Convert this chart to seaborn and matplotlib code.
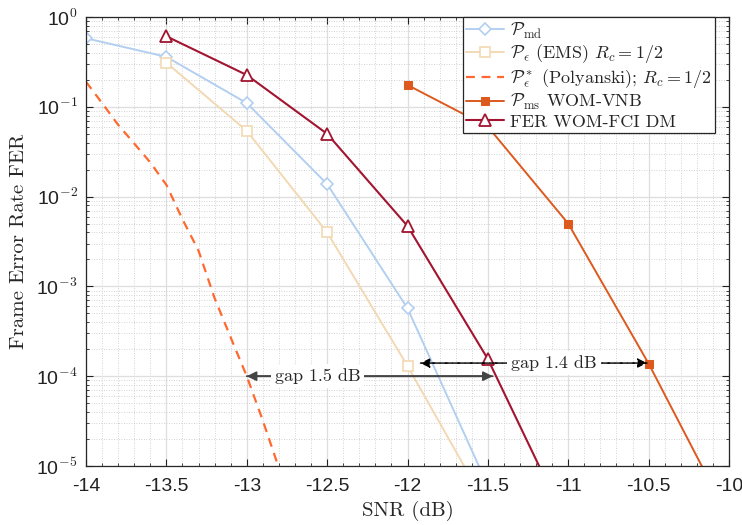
import numpy as np
import pandas as pd
import seaborn as sns
import matplotlib
matplotlib.use('Agg')
import matplotlib.pyplot as plt
from matplotlib.ticker import FuncFormatter, LogLocator, MultipleLocator

# data
snr_md = [-14.0, -13.5, -13.0, -12.5, -12.0, -11.5]
fer_md = [0.58, 0.36, 0.11, 0.0138, 5.7e-4, 6e-6]

snr_ems = [-13.5, -13.0, -12.5, -12.0, -11.5]
fer_ems = [0.31, 0.054, 0.0040, 1.3e-4, 3.4e-6]

snr_poly = [-14.0, -13.9, -13.8, -13.7, -13.6, -13.5, -13.4, -13.3, -13.2, -13.1, -13.0, -12.9, -12.8]
fer_poly = [0.19, 0.11, 0.063, 0.039, 0.024, 0.0135, 0.0056, 0.0025, 7.4e-4, 2.7e-4, 1.0e-4, 3.2e-5, 9.5e-6]

snr_vnb = [-12.0, -11.5, -11.0, -10.5, -10.0]
fer_vnb = [0.175, 0.06, 0.005, 1.38e-4, 2.6e-6]

snr_fci = [-13.5, -13.0, -12.5, -12.0, -11.5, -11.0]
fer_fci = [0.61, 0.226, 0.050, 0.0047, 1.55e-4, 2.1e-6]

labels = [r'$\mathcal{P}_{\rm md}$',
          r'$\mathcal{P}_\epsilon$ (EMS) $R_c = 1/2$',
          r'$\mathcal{P}^*_\epsilon$ (Polyanski); $R_c = 1/2$',
          r'$\mathcal{P}_{\rm ms}$ WOM-VNB',
          'FER WOM-FCI DM']

sns.set_style('ticks')
plt.rcParams['font.family'] = ['Liberation Sans', 'DejaVu Sans']
plt.rcParams['mathtext.fontset'] = 'cm'
plt.rcParams['axes.unicode_minus'] = False

fig = plt.figure(figsize=(7.42, 5.25), dpi=100)
ax = fig.add_axes([0.1159, 0.1124, 0.8666, 0.8552])

c_md = '#b3cff0'
c_ems = '#f2d9b3'
c_poly = '#ff6930'
c_vnb = '#dd5a1e'
c_fci = '#a2142f'

sns.lineplot(x=snr_md, y=fer_md, ax=ax, color=c_md, lw=1.4, marker='D', markersize=6,
             markerfacecolor='white', markeredgecolor=c_md, markeredgewidth=1.2, label=labels[0])
sns.lineplot(x=snr_ems, y=fer_ems, ax=ax, color=c_ems, lw=1.4, marker='s', markersize=7,
             markerfacecolor='white', markeredgecolor=c_ems, markeredgewidth=1.2, label=labels[1])
sns.lineplot(x=snr_poly, y=fer_poly, ax=ax, color=c_poly, lw=1.6, linestyle=(0, (4, 3)),
             label=labels[2])
sns.lineplot(x=snr_vnb, y=fer_vnb, ax=ax, color=c_vnb, lw=1.4, marker='s', markersize=6,
             markerfacecolor=c_vnb, markeredgecolor=c_vnb, label=labels[3])
sns.lineplot(x=snr_fci, y=fer_fci, ax=ax, color=c_fci, lw=1.5, marker='^', markersize=8,
             markerfacecolor='white', markeredgecolor=c_fci, markeredgewidth=1.3, label=labels[4])

ax.set_yscale('log')
ax.set_xlim(-14, -10)
ax.set_ylim(1e-5, 1)
ax.xaxis.set_major_locator(MultipleLocator(0.5))
ax.xaxis.set_minor_locator(MultipleLocator(0.1))
ax.yaxis.set_major_locator(LogLocator(base=10, numticks=10))
ax.yaxis.set_minor_locator(LogLocator(base=10, subs=np.arange(2, 10), numticks=20))
ax.xaxis.set_major_formatter(FuncFormatter(lambda v, p: f'{v:g}'))
ax.yaxis.set_major_formatter(FuncFormatter(
    lambda v, p: '10$^{\\mathsf{' + str(int(round(np.log10(v)))) + '}}$'))

ax.grid(which='major', color='#dedede', lw=0.9, ls='-')
ax.grid(which='minor', color='#c4c4c4', lw=0.6, ls=(0, (1, 2)))
ax.set_axisbelow(True)
ax.tick_params(which='both', direction='in', top=True, right=True, labelsize=14, colors='#222222')
ax.tick_params(axis='x', which='major', pad=9)
ax.tick_params(axis='y', which='major', pad=6)
ax.tick_params(which='major', length=5)
ax.tick_params(which='minor', length=2.5)
for s in ax.spines.values():
    s.set_color('#262626')
    s.set_linewidth(0.9)

ax.set_xlabel('SNR (dB)', family='cmr10', fontsize=15, labelpad=4)
ax.set_ylabel('Frame Error Rate FER', family='cmr10', fontsize=15, labelpad=6)

# gap annotations
ax.annotate('', xy=(-13.0, 1e-4), xytext=(-11.47, 1e-4),
            arrowprops=dict(arrowstyle='-|>', color='#444444', lw=1.3, mutation_scale=14,
                            shrinkA=0, shrinkB=0), zorder=4)
ax.annotate('', xy=(-11.47, 1e-4), xytext=(-13.0, 1e-4),
            arrowprops=dict(arrowstyle='-|>', color='#444444', lw=1.3, mutation_scale=14,
                            shrinkA=0, shrinkB=0), zorder=4)
ax.text(-12.56, 1e-4, 'gap 1.5 dB', family='cmr10', fontsize=13, ha='center', va='center',
        bbox=dict(facecolor='white', edgecolor='none', pad=3), zorder=5)

ax.annotate('', xy=(-11.92, 1.4e-4), xytext=(-10.51, 1.4e-4),
            arrowprops=dict(arrowstyle='-|>', color='black', lw=1.0, ls=(0, (5, 4)),
                            mutation_scale=14, shrinkA=0, shrinkB=0), zorder=4)
ax.annotate('', xy=(-10.51, 1.4e-4), xytext=(-11.92, 1.4e-4),
            arrowprops=dict(arrowstyle='-|>', color='black', lw=1.0, ls=(0, (5, 4)),
                            mutation_scale=14, shrinkA=0, shrinkB=0), zorder=4)
ax.text(-11.09, 1.4e-4, 'gap 1.4 dB', family='cmr10', fontsize=13, ha='center', va='center',
        bbox=dict(facecolor='white', edgecolor='none', pad=3), zorder=5)

leg = ax.legend(loc='upper right', bbox_to_anchor=(0.978, 1.0), borderaxespad=0,
                prop={'family': 'cmr10', 'size': 13}, fancybox=False, framealpha=1,
                edgecolor='#262626', handlelength=2.1, handletextpad=0.3, borderpad=0.2,
                labelspacing=0.1)
leg.get_frame().set_linewidth(0.9)
leg.set_zorder(10)

fig.savefig('out.png', dpi=100)
